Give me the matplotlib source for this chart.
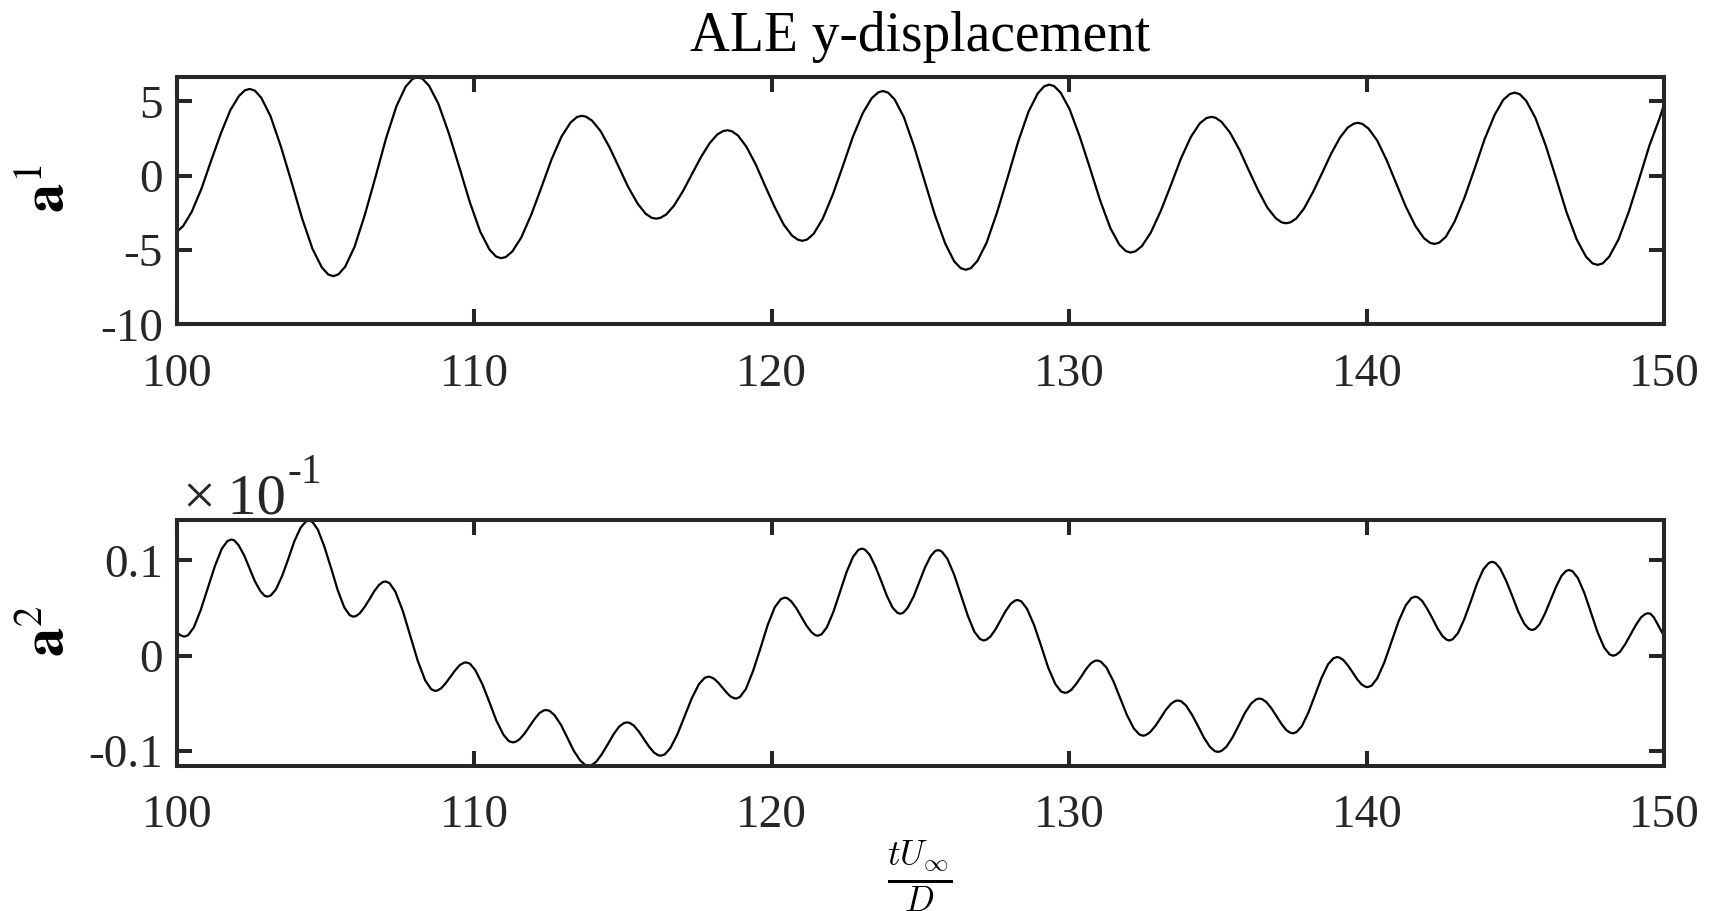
import matplotlib
matplotlib.use("Agg")
import matplotlib.pyplot as plt

# ===================== #
#         Data          #
# ===================== #

# a^1 (top panel), one row per half swing
t_top = [100.00, 100.21, 100.50, 100.83, 101.15, 101.48, 101.80, 102.09, 102.29, 102.45,
         102.62, 102.84, 103.15, 103.50, 103.86, 104.21, 104.56, 104.87, 105.09, 105.26,
         105.43, 105.66, 105.97, 106.32, 106.68, 107.03, 107.38, 107.69, 107.92, 108.09,
         108.26, 108.48, 108.79, 109.14, 109.50, 109.85, 110.20, 110.51, 110.73, 110.90,
         111.06, 111.28, 111.58, 111.92, 112.26, 112.59, 112.93, 113.23, 113.45, 113.61,
         113.76, 113.96, 114.24, 114.55, 114.86, 115.17, 115.49, 115.76, 115.96, 116.11,
         116.25, 116.45, 116.71, 117.01, 117.31, 117.61, 117.91, 118.17, 118.37, 118.51,
         118.66, 118.86, 119.14, 119.46, 119.77, 120.09, 120.40, 120.68, 120.88, 121.03,
         121.19, 121.41, 121.71, 122.05, 122.39, 122.72, 123.06, 123.36, 123.58, 123.74,
         123.91, 124.13, 124.44, 124.78, 125.13, 125.48, 125.83, 126.13, 126.35, 126.52,
         126.69, 126.91, 127.22, 127.57, 127.93, 128.28, 128.63, 128.94, 129.16, 129.33,
         129.49, 129.71, 130.01, 130.35, 130.70, 131.04, 131.38, 131.68, 131.90, 132.06,
         132.22, 132.44, 132.74, 133.08, 133.42, 133.75, 134.09, 134.39, 134.61, 134.77,
         134.92, 135.12, 135.40, 135.72, 136.03, 136.35, 136.66, 136.94, 137.14, 137.29,
         137.43, 137.63, 137.89, 138.19, 138.50, 138.80, 139.10, 139.36, 139.56, 139.70,
         139.85, 140.06, 140.35, 140.67, 140.99, 141.31, 141.64, 141.92, 142.13, 142.28,
         142.44, 142.66, 142.95, 143.29, 143.63, 143.96, 144.30, 144.59, 144.81, 144.97,
         145.14, 145.36, 145.67, 146.02, 146.37, 146.71, 147.06, 147.37, 147.59, 147.76,
         147.93, 148.15, 148.46, 148.81, 149.16, 149.50, 149.85, 150.00]
a1 = [-3.77, -3.39, -2.43, -0.86, 1.00, 2.85, 4.42, 5.37, 5.75, 5.84,
      5.73, 5.24, 4.00, 1.95, -0.46, -2.87, -4.92, -6.16, -6.65, -6.76,
      -6.64, -6.12, -4.80, -2.63, -0.07, 2.50, 4.67, 5.99, 6.51, 6.63,
      6.52, 6.05, 4.85, 2.87, 0.54, -1.79, -3.77, -4.97, -5.44, -5.55,
      -5.47, -5.09, -4.15, -2.59, -0.76, 1.07, 2.63, 3.57, 3.95, 4.03,
      3.97, 3.70, 3.02, 1.89, 0.57, -0.75, -1.88, -2.56, -2.83, -2.89,
      -2.84, -2.61, -2.02, -1.05, 0.09, 1.22, 2.19, 2.78, 3.01, 3.06,
      2.99, 2.71, 1.97, 0.76, -0.66, -2.08, -3.29, -4.03, -4.31, -4.38,
      -4.29, -3.90, -2.90, -1.27, 0.66, 2.59, 4.22, 5.22, 5.61, 5.70,
      5.59, 5.13, 3.94, 1.99, -0.32, -2.62, -4.57, -5.76, -6.22, -6.33,
      -6.22, -5.74, -4.51, -2.48, -0.10, 2.28, 4.31, 5.54, 6.02, 6.13,
      6.03, 5.59, 4.48, 2.64, 0.48, -1.68, -3.52, -4.63, -5.07, -5.17,
      -5.09, -4.74, -3.83, -2.35, -0.61, 1.14, 2.62, 3.53, 3.88, 3.96,
      3.90, 3.62, 2.91, 1.75, 0.38, -0.99, -2.15, -2.86, -3.14, -3.20,
      -3.14, -2.88, -2.21, -1.11, 0.18, 1.47, 2.57, 3.24, 3.50, 3.56,
      3.49, 3.17, 2.37, 1.04, -0.52, -2.07, -3.40, -4.20, -4.52, -4.59,
      -4.50, -4.11, -3.10, -1.45, 0.50, 2.45, 4.10, 5.11, 5.50, 5.59,
      5.49, 5.04, 3.89, 2.01, -0.21, -2.42, -4.30, -5.45, -5.90, -6.00,
      -5.90, -5.45, -4.30, -2.42, -0.20, 2.02, 3.90, 4.85]

# a^2 (bottom panel)
t_bot = [100.00, 100.12, 100.25,
         100.38, 100.57, 100.80, 101.04, 101.28, 101.51, 101.70, 101.83,
         101.93, 102.07, 102.26, 102.44, 102.62, 102.81, 102.95, 103.05,
         103.16, 103.33, 103.54, 103.75, 103.95, 104.16, 104.33, 104.44,
         104.56, 104.74, 104.96, 105.19, 105.41, 105.63, 105.81, 105.93,
         106.02, 106.15, 106.31, 106.48, 106.64, 106.80, 106.93, 107.02,
         107.15, 107.35, 107.60, 107.85, 108.10, 108.35, 108.55, 108.68,
         108.76, 108.89, 109.04, 109.20, 109.36, 109.51, 109.64, 109.72,
         109.85, 110.03, 110.27, 110.51, 110.74, 110.98, 111.16, 111.29,
         111.38, 111.52, 111.69, 111.86, 112.03, 112.19, 112.33, 112.42,
         112.53, 112.70, 112.92, 113.13, 113.34, 113.56, 113.73, 113.84,
         113.94, 114.10, 114.29, 114.49, 114.68, 114.87, 115.03, 115.13,
         115.22, 115.36, 115.53, 115.70, 115.87, 116.04, 116.18, 116.27,
         116.40, 116.59, 116.83, 117.07, 117.31, 117.55, 117.74, 117.87,
         117.94, 118.06, 118.20, 118.34, 118.48, 118.61, 118.73, 118.80,
         118.93, 119.13, 119.37, 119.62, 119.86, 120.10, 120.30, 120.43,
         120.52, 120.65, 120.82, 120.99, 121.16, 121.33, 121.46, 121.55,
         121.67, 121.85, 122.07, 122.29, 122.51, 122.73, 122.91, 123.03,
         123.13, 123.29, 123.48, 123.68, 123.87, 124.06, 124.22, 124.32,
         124.42, 124.57, 124.77, 124.96, 125.15, 125.34, 125.49, 125.59,
         125.71, 125.90, 126.13, 126.36, 126.59, 126.81, 127.00, 127.12,
         127.21, 127.35, 127.52, 127.69, 127.86, 128.03, 128.17, 128.26,
         128.39, 128.58, 128.82, 129.06, 129.29, 129.53, 129.72, 129.85,
         129.94, 130.07, 130.23, 130.40, 130.56, 130.72, 130.85, 130.94,
         131.06, 131.25, 131.48, 131.71, 131.94, 132.17, 132.36, 132.48,
         132.57, 132.71, 132.89, 133.07, 133.24, 133.42, 133.56, 133.65,
         133.76, 133.92, 134.12, 134.33, 134.53, 134.73, 134.89, 135.00,
         135.11, 135.28, 135.49, 135.70, 135.90, 136.11, 136.28, 136.39,
         136.48, 136.62, 136.79, 136.96, 137.13, 137.29, 137.43, 137.52,
         137.64, 137.82, 138.04, 138.26, 138.48, 138.70, 138.88, 139.00,
         139.08, 139.21, 139.36, 139.52, 139.67, 139.82, 139.95, 140.03,
         140.16, 140.35, 140.59, 140.83, 141.07, 141.31, 141.50, 141.63,
         141.72, 141.86, 142.03, 142.21, 142.38, 142.55, 142.69, 142.78,
         142.89, 143.07, 143.28, 143.50, 143.71, 143.92, 144.10, 144.21,
         144.32, 144.48, 144.68, 144.89, 145.09, 145.29, 145.45, 145.56,
         145.66, 145.81, 145.99, 146.18, 146.37, 146.55, 146.70, 146.80,
         146.92, 147.10, 147.32, 147.54, 147.76, 147.98, 148.16, 148.28,
         148.37, 148.52, 148.69, 148.87, 149.05, 149.22, 149.37, 149.46,
         149.54, 149.65, 149.79, 150.00]
a2 = [0.0245, 0.0215, 0.0200,
      0.0216, 0.0297, 0.0478, 0.0710, 0.0942, 0.1123, 0.1204, 0.1220,
      0.1211, 0.1163, 0.1056, 0.0920, 0.0784, 0.0677, 0.0629, 0.0620,
      0.0633, 0.0696, 0.0838, 0.1020, 0.1202, 0.1344, 0.1407, 0.1420,
      0.1404, 0.1324, 0.1144, 0.0915, 0.0686, 0.0506, 0.0426, 0.0410,
      0.0416, 0.0445, 0.0511, 0.0595, 0.0679, 0.0745, 0.0774, 0.0780,
      0.0762, 0.0670, 0.0466, 0.0205, -0.0056, -0.0260, -0.0352, -0.0370,
      -0.0365, -0.0341, -0.0288, -0.0220, -0.0152, -0.0099, -0.0075, -0.0070,
      -0.0083, -0.0150, -0.0299, -0.0490, -0.0681, -0.0830, -0.0897, -0.0910,
      -0.0905, -0.0878, -0.0817, -0.0740, -0.0663, -0.0602, -0.0575, -0.0570,
      -0.0579, -0.0626, -0.0730, -0.0864, -0.0997, -0.1101, -0.1148, -0.1157,
      -0.1150, -0.1113, -0.1032, -0.0928, -0.0825, -0.0744, -0.0707, -0.0700,
      -0.0705, -0.0733, -0.0796, -0.0875, -0.0954, -0.1017, -0.1045, -0.1050,
      -0.1037, -0.0971, -0.0823, -0.0635, -0.0447, -0.0299, -0.0233, -0.0220,
      -0.0224, -0.0242, -0.0283, -0.0335, -0.0387, -0.0428, -0.0446, -0.0450,
      -0.0433, -0.0349, -0.0161, 0.0080, 0.0321, 0.0509, 0.0593, 0.0610,
      0.0604, 0.0572, 0.0501, 0.0410, 0.0319, 0.0248, 0.0216, 0.0210,
      0.0224, 0.0297, 0.0460, 0.0668, 0.0875, 0.1038, 0.1111, 0.1125,
      0.1114, 0.1060, 0.0938, 0.0782, 0.0627, 0.0505, 0.0451, 0.0440,
      0.0451, 0.0504, 0.0623, 0.0775, 0.0927, 0.1046, 0.1099, 0.1110,
      0.1095, 0.1019, 0.0851, 0.0635, 0.0419, 0.0251, 0.0175, 0.0160,
      0.0167, 0.0201, 0.0276, 0.0373, 0.0469, 0.0544, 0.0578, 0.0585,
      0.0570, 0.0492, 0.0319, 0.0097, -0.0124, -0.0297, -0.0375, -0.0390,
      -0.0385, -0.0358, -0.0297, -0.0220, -0.0143, -0.0082, -0.0055, -0.0050,
      -0.0062, -0.0125, -0.0266, -0.0445, -0.0624, -0.0765, -0.0828, -0.0840,
      -0.0834, -0.0805, -0.0739, -0.0655, -0.0571, -0.0505, -0.0476, -0.0470,
      -0.0478, -0.0522, -0.0617, -0.0740, -0.0863, -0.0958, -0.1002, -0.1010,
      -0.1001, -0.0957, -0.0857, -0.0730, -0.0603, -0.0503, -0.0459, -0.0450,
      -0.0456, -0.0485, -0.0550, -0.0633, -0.0715, -0.0780, -0.0809, -0.0815,
      -0.0802, -0.0739, -0.0596, -0.0414, -0.0233, -0.0090, -0.0027, -0.0014,
      -0.0019, -0.0044, -0.0100, -0.0172, -0.0244, -0.0300, -0.0325, -0.0330,
      -0.0315, -0.0239, -0.0071, 0.0145, 0.0361, 0.0529, 0.0605, 0.0620,
      0.0613, 0.0576, 0.0494, 0.0390, 0.0286, 0.0204, 0.0167, 0.0160,
      0.0173, 0.0239, 0.0385, 0.0573, 0.0761, 0.0907, 0.0973, 0.0986,
      0.0975, 0.0918, 0.0791, 0.0628, 0.0465, 0.0338, 0.0281, 0.0270,
      0.0280, 0.0330, 0.0442, 0.0585, 0.0728, 0.0840, 0.0890, 0.0900,
      0.0886, 0.0814, 0.0654, 0.0450, 0.0246, 0.0086, 0.0014, 0.0000,
      0.0007, 0.0043, 0.0122, 0.0223, 0.0324, 0.0403, 0.0439, 0.0446,
      0.0439, 0.0403, 0.0324, 0.0200]

x_ticks = [100, 110, 120, 130, 140, 150]
a1_ticks = [-10, -5, 0, 5]
a2_ticks = [-0.1, 0, 0.1]
a2_tick_labels = ["-0.1", "0", "0.1"]

# ===================== #
#         Plot          #
# ===================== #

plt.rcParams["font.family"] = ["Liberation Serif", "DejaVu Serif"]
plt.rcParams["mathtext.fontset"] = "stix"
plt.rcParams["axes.unicode_minus"] = False

frame = "#262626"
tick_fs = 34

fig = plt.figure(figsize=(17.12, 9.11), dpi=100)
ax1 = fig.add_axes([0.1033, 0.6440, 0.8688, 0.2711])
ax2 = fig.add_axes([0.1033, 0.1595, 0.8688, 0.2697])

ax1.plot(t_top, a1, color="black", lw=1.6, solid_joinstyle="round")
ax2.plot(t_bot, a2, color="black", lw=1.6, solid_joinstyle="round")

ax1.set_ylim(-10, 6.62)
ax1.set_yticks(a1_ticks)
ax2.set_ylim(-0.1155, 0.1425)
ax2.set_yticks(a2_ticks)
ax2.set_yticklabels(a2_tick_labels)

for ax in (ax1, ax2):
    ax.set_xlim(100, 150)
    ax.set_xticks(x_ticks)
    ax.tick_params(direction="in", length=11, width=2.9, color=frame,
                   labelcolor=frame, labelsize=tick_fs, top=True, right=True)
    ax.tick_params(axis="x", pad=21)
    ax.tick_params(axis="y", pad=10)
    for s in ax.spines.values():
        s.set_linewidth(2.9)
        s.set_color(frame)

# title and axis labels
fig.text(0.5374, 0.944, "ALE y-displacement", fontsize=40, ha="center", va="baseline")
fig.text(0.0286, 0.7925, r"$\mathbf{a}^{1}$", fontsize=42, rotation=90, ha="center", va="center")
fig.text(0.0286, 0.3074, r"$\mathbf{a}^{2}$", fontsize=42, rotation=90, ha="center", va="center")
fig.text(0.5374, 0.0384, r"$\frac{tU_\infty}{D}$", fontsize=36, math_fontfamily="cm",
         ha="center", va="center")

# exponent label of the lower axes
mult = ax2.text(0.004, 1.028, "\u00d7\u200910", transform=ax2.transAxes, fontsize=42,
                color=frame, va="baseline", ha="left")
ax2.annotate("-1", xy=(1, 1), xycoords=mult, xytext=(1, 0), textcoords="offset points",
             fontsize=30, color=frame, ha="left", va="center")

fig.savefig("out.png", dpi=100)
